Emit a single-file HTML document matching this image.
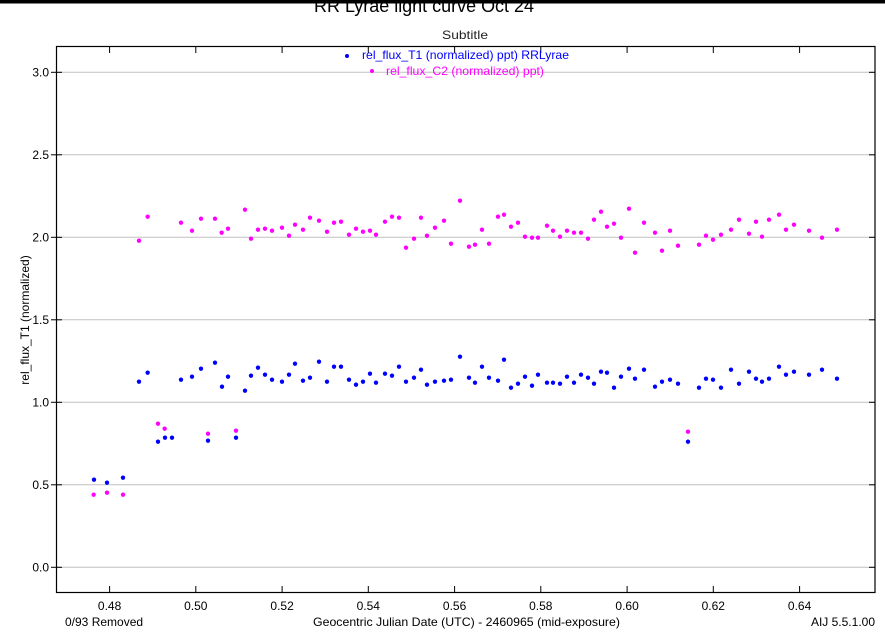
<!DOCTYPE html>
<html><head><meta charset="utf-8"><style>
html,body{margin:0;padding:0;background:#fff;}
svg{display:block;font-family:"Liberation Sans",Arial,sans-serif;}
</style></head><body>
<svg width="885" height="634" viewBox="0 0 885 634" xmlns="http://www.w3.org/2000/svg">
<rect x="0" y="0" width="885" height="634" fill="#fff"/>
<text x="314" y="12" font-size="18" textLength="220" lengthAdjust="spacingAndGlyphs">RR Lyrae light curve Oct 24</text>
<rect x="0" y="0" width="885" height="3.5" fill="#000"/>
<text x="442" y="39" font-size="12" textLength="46" lengthAdjust="spacingAndGlyphs" fill="#222">Subtitle</text>
<!-- grid -->
<g stroke="#c0c0c0" stroke-width="1">
<line x1="57" x2="875" y1="72.3" y2="72.3"/>
<line x1="57" x2="875" y1="154.8" y2="154.8"/>
<line x1="57" x2="875" y1="237.3" y2="237.3"/>
<line x1="57" x2="875" y1="319.8" y2="319.8"/>
<line x1="57" x2="875" y1="402.3" y2="402.3"/>
<line x1="57" x2="875" y1="484.8" y2="484.8"/>
<line x1="57" x2="875" y1="567.3" y2="567.3"/>
</g>
<!-- frame -->
<rect x="56.5" y="46.5" width="818.5" height="546" fill="none" stroke="#000" stroke-width="1.2"/>
<g stroke="#000" stroke-width="1">
<line x1="51" x2="62" y1="72.3" y2="72.3"/><line x1="51" x2="62" y1="154.8" y2="154.8"/><line x1="51" x2="62" y1="237.3" y2="237.3"/><line x1="51" x2="62" y1="319.8" y2="319.8"/><line x1="51" x2="62" y1="402.3" y2="402.3"/><line x1="51" x2="62" y1="484.8" y2="484.8"/><line x1="51" x2="62" y1="567.3" y2="567.3"/>
<line x1="869" x2="875" y1="72.3" y2="72.3"/><line x1="869" x2="875" y1="154.8" y2="154.8"/><line x1="869" x2="875" y1="237.3" y2="237.3"/><line x1="869" x2="875" y1="319.8" y2="319.8"/><line x1="869" x2="875" y1="402.3" y2="402.3"/><line x1="869" x2="875" y1="484.8" y2="484.8"/><line x1="869" x2="875" y1="567.3" y2="567.3"/>
<line x1="109.6" x2="109.6" y1="586" y2="592"/><line x1="195.8" x2="195.8" y1="586" y2="592"/><line x1="282.1" x2="282.1" y1="586" y2="592"/><line x1="368.3" x2="368.3" y1="586" y2="592"/><line x1="454.6" x2="454.6" y1="586" y2="592"/><line x1="540.8" x2="540.8" y1="586" y2="592"/><line x1="627.1" x2="627.1" y1="586" y2="592"/><line x1="713.3" x2="713.3" y1="586" y2="592"/><line x1="799.6" x2="799.6" y1="586" y2="592"/>
<line x1="109.6" x2="109.6" y1="47" y2="53"/><line x1="195.8" x2="195.8" y1="47" y2="53"/><line x1="282.1" x2="282.1" y1="47" y2="53"/><line x1="368.3" x2="368.3" y1="47" y2="53"/><line x1="454.6" x2="454.6" y1="47" y2="53"/><line x1="540.8" x2="540.8" y1="47" y2="53"/><line x1="627.1" x2="627.1" y1="47" y2="53"/><line x1="713.3" x2="713.3" y1="47" y2="53"/><line x1="799.6" x2="799.6" y1="47" y2="53"/>
</g>
<g font-size="12" fill="#000" text-anchor="end">
<text x="49" y="76.5">3.0</text><text x="49" y="159">2.5</text><text x="49" y="241.5">2.0</text><text x="49" y="324">1.5</text><text x="49" y="406.5">1.0</text><text x="49" y="489">0.5</text><text x="49" y="571.5">0.0</text>
</g>
<g font-size="12" fill="#000" text-anchor="middle">
<text x="109.6" y="610">0.48</text><text x="195.8" y="610">0.50</text><text x="282.1" y="610">0.52</text><text x="368.3" y="610">0.54</text><text x="454.6" y="610">0.56</text><text x="540.8" y="610">0.58</text><text x="627.1" y="610">0.60</text><text x="713.3" y="610">0.62</text><text x="799.6" y="610">0.64</text>
</g>
<text x="65" y="626" font-size="12">0/93 Removed</text>
<text x="313" y="626" font-size="12" textLength="307" lengthAdjust="spacingAndGlyphs">Geocentric Julian Date (UTC) - 2460965 (mid-exposure)</text>
<text x="875" y="626" font-size="12" text-anchor="end">AIJ 5.5.1.00</text>
<text transform="translate(29,320) rotate(-90)" font-size="12" text-anchor="middle">rel_flux_T1 (normalized)</text>
<!-- legend -->
<circle cx="347" cy="56" r="2" fill="#0000ff"/>
<text x="362" y="59" font-size="12" fill="#0000ff" textLength="207" lengthAdjust="spacingAndGlyphs">rel_flux_T1 (normalized) ppt) RRLyrae</text>
<circle cx="372" cy="71" r="2" fill="#ff00ff"/>
<text x="386" y="75" font-size="12" fill="#ff00ff" textLength="158" lengthAdjust="spacingAndGlyphs">rel_flux_C2 (normalized) ppt)</text>
<!-- data zoom1 -->
<g transform="translate(57,180) scale(0.33333)">
<g fill="#ff00ff">
<circle cx="110" cy="944" r="6.5"/><circle cx="150" cy="938" r="6.5"/><circle cx="198" cy="944" r="6.5"/><circle cx="246" cy="182" r="6.5"/><circle cx="272" cy="110" r="6.5"/><circle cx="303" cy="731" r="6.5"/><circle cx="323" cy="746" r="6.5"/><circle cx="372" cy="128" r="6.5"/><circle cx="405" cy="152" r="6.5"/><circle cx="432" cy="116" r="6.5"/><circle cx="453" cy="761" r="6.5"/><circle cx="474" cy="116" r="6.5"/><circle cx="494" cy="158" r="6.5"/><circle cx="513" cy="146" r="6.5"/><circle cx="537" cy="752" r="6.5"/><circle cx="564" cy="89" r="6.5"/><circle cx="582" cy="176" r="6.5"/><circle cx="603" cy="149" r="6.5"/><circle cx="624" cy="146" r="6.5"/><circle cx="645" cy="152" r="6.5"/><circle cx="675" cy="143" r="6.5"/><circle cx="696" cy="167" r="6.5"/><circle cx="714" cy="134" r="6.5"/><circle cx="738" cy="149" r="6.5"/><circle cx="759" cy="113" r="6.5"/><circle cx="786" cy="122" r="6.5"/><circle cx="810" cy="155" r="6.5"/><circle cx="831" cy="128" r="6.5"/><circle cx="852" cy="125" r="6.5"/><circle cx="876" cy="164" r="6.5"/><circle cx="897" cy="146" r="6.5"/><circle cx="918" cy="155" r="6.5"/><circle cx="939" cy="152" r="6.5"/><circle cx="957" cy="164" r="6.5"/><circle cx="984" cy="125" r="6.5"/><circle cx="1005" cy="110" r="6.5"/><circle cx="1026" cy="113" r="6.5"/><circle cx="1047" cy="203" r="6.5"/><circle cx="1071" cy="176" r="6.5"/><circle cx="1092" cy="113" r="6.5"/><circle cx="1110" cy="167" r="6.5"/><circle cx="1134" cy="143" r="6.5"/><circle cx="1161" cy="122" r="6.5"/><circle cx="1182" cy="191" r="6.5"/><circle cx="1209" cy="62" r="6.5"/><circle cx="1236" cy="200" r="6.5"/><circle cx="1254" cy="194" r="6.5"/>
</g>
<g fill="#0000ff">
<circle cx="111" cy="899" r="6.5"/><circle cx="150" cy="908" r="6.5"/><circle cx="198" cy="893" r="6.5"/><circle cx="246" cy="605" r="6.5"/><circle cx="272" cy="578" r="6.5"/><circle cx="303" cy="785" r="6.5"/><circle cx="324" cy="773" r="6.5"/><circle cx="345" cy="773" r="6.5"/><circle cx="372" cy="599" r="6.5"/><circle cx="405" cy="590" r="6.5"/><circle cx="432" cy="566" r="6.5"/><circle cx="453" cy="782" r="6.5"/><circle cx="474" cy="548" r="6.5"/><circle cx="495" cy="620" r="6.5"/><circle cx="513" cy="590" r="6.5"/><circle cx="537" cy="773" r="6.5"/><circle cx="564" cy="632" r="6.5"/><circle cx="582" cy="587" r="6.5"/><circle cx="603" cy="563" r="6.5"/><circle cx="624" cy="584" r="6.5"/><circle cx="645" cy="599" r="6.5"/><circle cx="675" cy="605" r="6.5"/><circle cx="696" cy="584" r="6.5"/><circle cx="714" cy="551" r="6.5"/><circle cx="738" cy="602" r="6.5"/><circle cx="759" cy="593" r="6.5"/><circle cx="786" cy="545" r="6.5"/><circle cx="810" cy="605" r="6.5"/><circle cx="831" cy="560" r="6.5"/><circle cx="852" cy="560" r="6.5"/><circle cx="876" cy="599" r="6.5"/><circle cx="897" cy="614" r="6.5"/><circle cx="918" cy="605" r="6.5"/><circle cx="939" cy="581" r="6.5"/><circle cx="957" cy="608" r="6.5"/><circle cx="984" cy="581" r="6.5"/><circle cx="1005" cy="587" r="6.5"/><circle cx="1026" cy="560" r="6.5"/><circle cx="1047" cy="605" r="6.5"/><circle cx="1071" cy="593" r="6.5"/><circle cx="1092" cy="569" r="6.5"/><circle cx="1110" cy="614" r="6.5"/><circle cx="1134" cy="605" r="6.5"/><circle cx="1161" cy="602" r="6.5"/><circle cx="1182" cy="599" r="6.5"/><circle cx="1209" cy="530" r="6.5"/><circle cx="1236" cy="593" r="6.5"/><circle cx="1254" cy="608" r="6.5"/>
</g>
</g>
<!-- data zoom2 -->
<g transform="translate(460,180) scale(0.33333)">
<g fill="#ff00ff">
<circle cx="66" cy="149" r="6.5"/><circle cx="87" cy="191" r="6.5"/><circle cx="114" cy="110" r="6.5"/><circle cx="132" cy="104" r="6.5"/><circle cx="153" cy="140" r="6.5"/><circle cx="174" cy="128" r="6.5"/><circle cx="195" cy="170" r="6.5"/><circle cx="216" cy="173" r="6.5"/><circle cx="234" cy="173" r="6.5"/><circle cx="261" cy="137" r="6.5"/><circle cx="279" cy="152" r="6.5"/><circle cx="300" cy="170" r="6.5"/><circle cx="321" cy="152" r="6.5"/><circle cx="342" cy="158" r="6.5"/><circle cx="363" cy="158" r="6.5"/><circle cx="384" cy="176" r="6.5"/><circle cx="402" cy="119" r="6.5"/><circle cx="423" cy="95" r="6.5"/><circle cx="441" cy="140" r="6.5"/><circle cx="462" cy="131" r="6.5"/><circle cx="483" cy="173" r="6.5"/><circle cx="507" cy="86" r="6.5"/><circle cx="525" cy="218" r="6.5"/><circle cx="552" cy="128" r="6.5"/><circle cx="585" cy="158" r="6.5"/><circle cx="606" cy="212" r="6.5"/><circle cx="630" cy="152" r="6.5"/><circle cx="654" cy="197" r="6.5"/><circle cx="684" cy="755" r="6.5"/><circle cx="717" cy="194" r="6.5"/><circle cx="738" cy="167" r="6.5"/><circle cx="759" cy="179" r="6.5"/><circle cx="783" cy="164" r="6.5"/><circle cx="813" cy="149" r="6.5"/><circle cx="837" cy="119" r="6.5"/><circle cx="867" cy="161" r="6.5"/><circle cx="888" cy="125" r="6.5"/><circle cx="906" cy="170" r="6.5"/><circle cx="927" cy="119" r="6.5"/><circle cx="957" cy="104" r="6.5"/><circle cx="978" cy="149" r="6.5"/><circle cx="1002" cy="134" r="6.5"/><circle cx="1047" cy="152" r="6.5"/><circle cx="1086" cy="173" r="6.5"/><circle cx="1131" cy="149" r="6.5"/>
</g>
<g fill="#0000ff">
<circle cx="66" cy="560" r="6.5"/><circle cx="87" cy="593" r="6.5"/><circle cx="114" cy="602" r="6.5"/><circle cx="132" cy="539" r="6.5"/><circle cx="153" cy="623" r="6.5"/><circle cx="174" cy="611" r="6.5"/><circle cx="195" cy="590" r="6.5"/><circle cx="216" cy="617" r="6.5"/><circle cx="234" cy="584" r="6.5"/><circle cx="261" cy="608" r="6.5"/><circle cx="279" cy="608" r="6.5"/><circle cx="300" cy="611" r="6.5"/><circle cx="321" cy="590" r="6.5"/><circle cx="342" cy="608" r="6.5"/><circle cx="363" cy="584" r="6.5"/><circle cx="384" cy="593" r="6.5"/><circle cx="402" cy="611" r="6.5"/><circle cx="423" cy="575" r="6.5"/><circle cx="441" cy="578" r="6.5"/><circle cx="462" cy="623" r="6.5"/><circle cx="483" cy="590" r="6.5"/><circle cx="507" cy="566" r="6.5"/><circle cx="525" cy="596" r="6.5"/><circle cx="552" cy="569" r="6.5"/><circle cx="585" cy="620" r="6.5"/><circle cx="606" cy="605" r="6.5"/><circle cx="630" cy="599" r="6.5"/><circle cx="654" cy="611" r="6.5"/><circle cx="684" cy="785" r="6.5"/><circle cx="717" cy="623" r="6.5"/><circle cx="738" cy="596" r="6.5"/><circle cx="759" cy="599" r="6.5"/><circle cx="783" cy="623" r="6.5"/><circle cx="813" cy="569" r="6.5"/><circle cx="837" cy="611" r="6.5"/><circle cx="867" cy="575" r="6.5"/><circle cx="888" cy="596" r="6.5"/><circle cx="906" cy="605" r="6.5"/><circle cx="927" cy="596" r="6.5"/><circle cx="957" cy="560" r="6.5"/><circle cx="978" cy="584" r="6.5"/><circle cx="1002" cy="575" r="6.5"/><circle cx="1047" cy="584" r="6.5"/><circle cx="1086" cy="569" r="6.5"/><circle cx="1131" cy="596" r="6.5"/>
</g>
</g>
</svg>
</body></html>
